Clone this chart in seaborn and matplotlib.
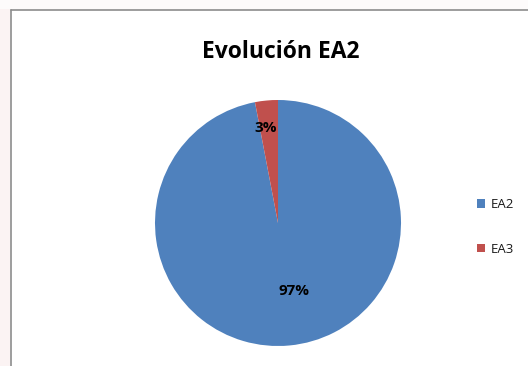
import matplotlib
matplotlib.use("Agg")
import matplotlib.pyplot as plt
import seaborn as sns
from matplotlib.patches import Rectangle
from matplotlib.lines import Line2D

# Data
categories = ["EA2", "EA3"]
shares = [97, 3]
title_text = "Evolución EA2"

sns.set_theme(style="white")
plt.rcParams["font.family"] = ["Open Sans", "DejaVu Sans"]

colors = ["#4F81BD", "#C0504D"]

W, H = 528, 366
fig = plt.figure(figsize=(W / 100, H / 100), dpi=100)
fig.patch.set_facecolor("white")

# Faint strip to the left of the chart frame
fig.patches.append(Rectangle((0, 0), 10 / W, 1, transform=fig.transFigure,
                             facecolor="#fbf3f3", edgecolor="none", zorder=0))
fig.patches.append(Rectangle((0, 1 - 9 / H), 1, 9 / H, transform=fig.transFigure,
                             facecolor="#fdfbfb", edgecolor="none", zorder=0))
# Chart frame (top and left edges visible)
fig.lines.append(Line2D([10.5 / W, 10.5 / W], [0, 1 - 9.5 / H], transform=fig.transFigure,
                        color="#8c8c8c", lw=1.2, zorder=1))
fig.lines.append(Line2D([10.5 / W, 1], [1 - 9.5 / H, 1 - 9.5 / H], transform=fig.transFigure,
                        color="#8c8c8c", lw=1.2, zorder=1))

cx, cy, r = 278, 223, 123
ax = fig.add_axes([(cx - r) / W, (H - cy - r) / H, 2 * r / W, 2 * r / H])

wedges, texts, autotexts = ax.pie(
    shares, colors=colors, startangle=90, counterclock=False,
    autopct="%1.0f%%", pctdistance=0.6, radius=1,
    wedgeprops=dict(linewidth=0, edgecolor="none"),
    textprops=dict(fontsize=11, fontweight="bold", color="black"),
)
# label placement inside each slice
label_pos = [(0.13, -0.55), (-0.1, 0.77)]
for t, p in zip(autotexts, label_pos):
    t.set_position(p)
    t.set_ha("center")
    t.set_va("center")

ax.set_xlim(-1, 1)
ax.set_ylim(-1, 1)
ax.set_aspect("equal")
ax.axis("off")

fig.text(281 / W, 1 - 52 / H, title_text, ha="center", va="center",
         fontsize=16.5, fontweight="bold", color="black")

handles = [Rectangle((0, 0), 1, 1, facecolor=c, edgecolor="none") for c in colors]
fig.legend(handles, categories, loc="center left", bbox_to_anchor=(470 / W, 1 - 227 / H),
           frameon=False, fontsize=9.5, handlelength=0.6, handleheight=0.6,
           handletextpad=0.45, labelspacing=2.4, borderpad=0, labelcolor="#1a1a1a")

fig.savefig("out.png", dpi=100, facecolor="white")
